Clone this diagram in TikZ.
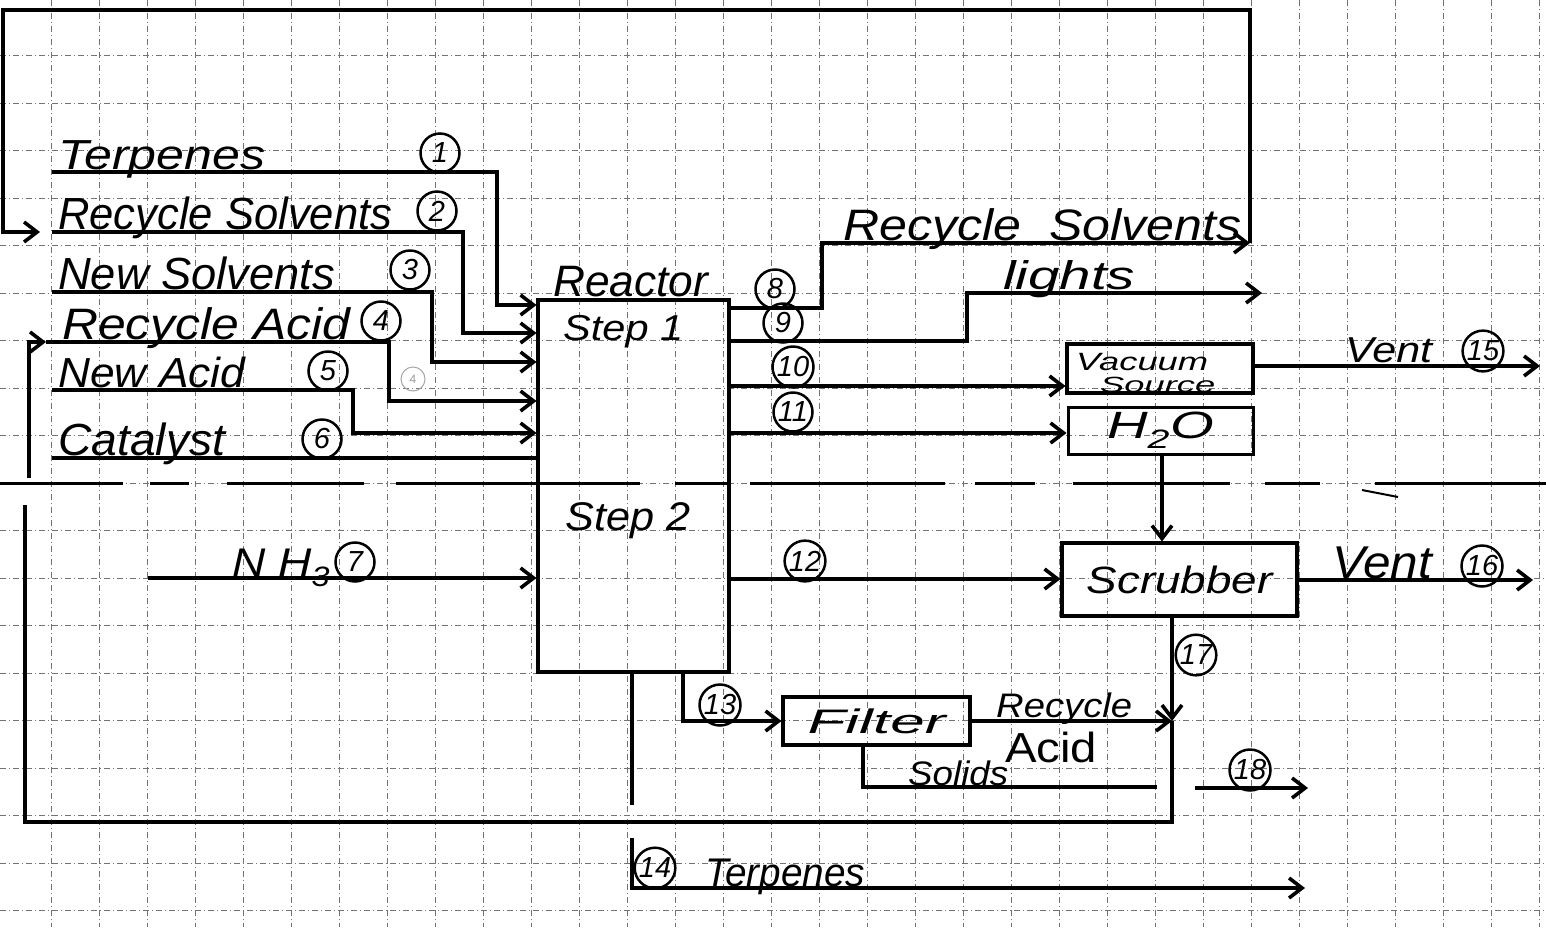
\documentclass[tikz,border=0pt]{standalone}
\usepackage{graphicx}
\usepackage{fontspec}
\setmainfont{Liberation Sans}
\usetikzlibrary{arrows.meta}
\newcommand{\fw}[2]{\resizebox{#1pt}{\height}{#2}}
\begin{document}
\begin{tikzpicture}[x=1pt,y=-1pt,
  flow/.style={line width=3.6pt, line join=miter},
  arr/.style={flow, -{Straight Barb[length=13pt,width=20pt]}},
  arrb/.style={arr, shorten >=1.5pt},
  box/.style={draw, line width=4pt, inner sep=0pt, outer sep=0pt, font=\itshape\fontsize{38}{38}\selectfont},
  num/.style={circle, draw, line width=2.5pt, inner sep=1pt, minimum size=39pt, font=\itshape\fontsize{29}{29}\selectfont},
  lbl/.style={anchor=base west, inner sep=0pt, font=\itshape\fontsize{44}{44}\selectfont},
  gridline/.style={black!55, line width=0.7pt, dash pattern=on 6pt off 3pt on 1pt off 3pt},
  divider/.style={line width=3pt}
]
\useasboundingbox (0,0) rectangle (1546,927);
\fill[white] (0,0) rectangle (1546,927);
% grid paper
\foreach \k in {1,...,32} \draw[gridline] ({3+48*\k},0) -- ({3+48*\k},927);
\foreach \k in {1,...,19} \draw[gridline] (0,{8+47.5*\k}) -- (1546,{8+47.5*\k});
% long dashed divider
\foreach \a/\b in {0/123,150/189,227/364,396/640,675/729,750/945,975/1035,1073/1230,1265/1320,1375/1546}
  \draw[divider] (\a,483) -- (\b,483);
\draw[line width=2pt] (1362,490) -- (1398,497);

% boxes
\node[box, minimum width=191pt, minimum height=372pt] (reactor) at (633.5,486) {};
\node[box, minimum width=186pt, minimum height=49pt] (vac) at (1160,368.5) {};
\node[box, line width=3pt, minimum width=185pt, minimum height=47pt] (h2o) at (1160.5,430.5) {\fw{107}{H\textsubscript{2}O}};
\node[box, minimum width=235pt, minimum height=73pt] (scrub) at (1179.5,579.5) {\fw{186}{Scrubber}};
\node[box, minimum width=187pt, minimum height=48pt, font=\itshape\fontsize{34}{34}\selectfont] (filter) at (876.5,721) {\fw{138}{Filter}};

% coordinates
\coordinate (s1) at (52,172);  \coordinate (c1) at (497,305);
\coordinate (s2) at (52,232);  \coordinate (c2) at (463,333);
\coordinate (s3) at (52,292);  \coordinate (c3) at (432,362);
\coordinate (a4) at (46,342);  \coordinate (c4) at (389,401);
\coordinate (u4) at (29,478);  \coordinate (l4) at (29,342);
\coordinate (s5) at (52,390);  \coordinate (c5) at (353,433);
\coordinate (s6) at (52,458);
\coordinate (s7) at (148,578);
\coordinate (c8) at (822,243); \coordinate (e8) at (1250,243);
\coordinate (tr) at (1250,10); \coordinate (tl) at (3,10);
\coordinate (l2) at (3,232);   \coordinate (a2) at (40,232);
\coordinate (c9) at (967,293); \coordinate (e9) at (1262,293);
\coordinate (p10) at (900,386);
\coordinate (p11) at (900,433);
\coordinate (p12) at (900,579);
\coordinate (c13) at (683,721);
\coordinate (c14) at (632,805);
\coordinate (s14) at (632,838); \coordinate (c14b) at (632,888); \coordinate (e14) at (1305,888);
\coordinate (x2) at (1162,500);
\coordinate (e15) at (1540,366);
\coordinate (e16) at (1533,580);
\coordinate (m17) at (1172,721); \coordinate (c17) at (1172,822);
\coordinate (b17) at (25,822);   \coordinate (u17) at (25,505);
\coordinate (cs) at (863,787);   \coordinate (es) at (1157,787);
\coordinate (s18) at (1195,788); \coordinate (e18) at (1308,788);

% feeds into reactor
\draw[arrb] (s1) -| (c1) -- (reactor.west |- c1);
\draw[arrb] (s2) -| (c2) -- (reactor.west |- c2);
\draw[arrb] (s3) -| (c3) -- (reactor.west |- c3);
\draw[arr] (u4) -- (l4) -- (a4);
\draw[arrb] (a4) -| (c4) -- (reactor.west |- c4);
\draw[arrb] (s5) -| (c5) -- (reactor.west |- c5);
\draw[flow] (s6) -- (reactor.west |- s6);
\draw[arrb] (s7) -- (reactor.west |- s7);

% products
\draw[arr] ([yshift=-8pt]reactor.north east) -| (c8) -- (e8);
\draw[arr] (e8) -- (tr) -- (tl) -- (l2) -- (a2);
\draw[arr] ([yshift=-41pt]reactor.north east) -| (c9) -- (e9);
\draw[arrb] (reactor.east |- p10) -- (vac.west |- p10);
\draw[arrb] (reactor.east |- p11) -- (h2o.west |- p11);
\draw[arrb] (reactor.east |- p12) -- (scrub.west |- p12);
\draw[arrb] (reactor.south -| c13) -- (c13) -- (filter.west);
\draw[flow] (reactor.south -| c14) -- (c14);
\draw[arr] (s14) -- (c14b) -- (e14);
\draw[arrb] (h2o.south -| x2) -- (scrub.north -| x2);
\draw[arr] (vac.east |- e15) -- (e15);
\draw[arr] (scrub.east |- e16) -- (e16);
\draw[arr] (scrub.south -| m17) -- (m17);
\draw[flow] (m17) -- (c17) -- (b17) -- (u17);
\draw[arr] (filter.east) -- (m17);
\draw[flow] (filter.south -| cs) -- (cs) -- (es);
\draw[arr] (s18) -- (e18);

% labels
\node[lbl, font=\itshape\fontsize{42}{42}\selectfont] (tTerp) at (58,169) {\fw{207}{Terpenes}};
\node[lbl, font=\itshape\fontsize{45}{45}\selectfont] (tRS) at (58,229) {\fw{334}{Recycle Solvents}};
\node[lbl, font=\itshape\fontsize{45}{45}\selectfont] (tNS) at (58,289) {\fw{277}{New Solvents}};
\node[lbl] (tRA) at (62,339) {\fw{288}{Recycle Acid}};
\node[lbl, font=\itshape\fontsize{42}{42}\selectfont] (tNA) at (58,387) {\fw{187}{New Acid}};
\node[lbl, font=\itshape\fontsize{45}{45}\selectfont] (tCat) at (58,455) {\fw{167}{Catalyst}};
\node[lbl, font=\itshape\fontsize{44}{44}\selectfont] (tReactor) at (553,296) {\fw{155}{Reactor}};
\node[lbl, font=\itshape\fontsize{36}{36}\selectfont] (tStep1) at (563,340) {\fw{120}{Step 1}};
\node[lbl, font=\itshape\fontsize{40}{40}\selectfont] (tStep2) at (565,530) {\fw{125}{Step 2}};
\node[lbl, font=\itshape\fontsize{40}{40}\selectfont] (tNH3) at (232,576) {\fw{98}{N H\textsubscript{3}}};
\node[lbl] (tRS2) at (843,240) {\fw{398}{Recycle\ \ Solvents}};
\node[lbl, font=\itshape\fontsize{40}{40}\selectfont] (tLights) at (1003,289) {\fw{132}{lights}};
\node[lbl, font=\itshape\fontsize{25}{25}\selectfont] (tVac) at (1076,370) {\fw{132}{Vacuum}};
\node[lbl, font=\itshape\fontsize{22}{22}\selectfont] (tSrc) at (1100,392) {\fw{115}{Source}};
\node[lbl, font=\itshape\fontsize{36}{36}\selectfont] (tVent15) at (1345,362) {\fw{87}{Vent}};
\node[lbl, font=\itshape\fontsize{46}{46}\selectfont] (tVent16) at (1332,578) {\fw{100}{Vent}};
\node[lbl, font=\itshape\fontsize{34}{34}\selectfont] (tRecyc) at (996,717) {\fw{136}{Recycle}};
\node[lbl, font=\fontsize{42}{42}\selectfont] (tAcid) at (1005,762) {\fw{92}{Acid}};
\node[lbl, font=\itshape\fontsize{34}{34}\selectfont] (tSolids) at (908,785) {\fw{100}{Solids}};
\node[lbl, font=\itshape\fontsize{40}{40}\selectfont] (tTerp14) at (705,886) {\fw{160}{Terpenes}};

% stream numbers
\node[num] (n1) at (440,153) {1};
\node[num] (n2) at (437,211) {2};
\node[num] (n3) at (410,270) {3};
\node[num] (n4) at (381,321) {4};
\node[num] (n5) at (328,371) {5};
\node[num] (n6) at (322,439) {6};
\node[num, draw=black!35, text=black!40, line width=1pt, minimum size=24pt, font=\fontsize{12}{12}\selectfont] (n4b) at (413,379) {4};
\node[num] (n7) at (355,562) {7};
\node[num] (n8) at (775,289) {8};
\node[num] (n9) at (783,323) {9};
\node[num] (n10) at (793,367) {10};
\node[num] (n11) at (793,412) {11};
\node[num] (n12) at (805,561) {12};
\node[num] (n13) at (720,705) {13};
\node[num] (n14) at (655,868) {14};
\node[num] (n15) at (1483,351) {15};
\node[num] (n16) at (1482,566) {16};
\node[num] (n17) at (1196,655) {17};
\node[num] (n18) at (1250,770) {18};
\end{tikzpicture}
\end{document}
